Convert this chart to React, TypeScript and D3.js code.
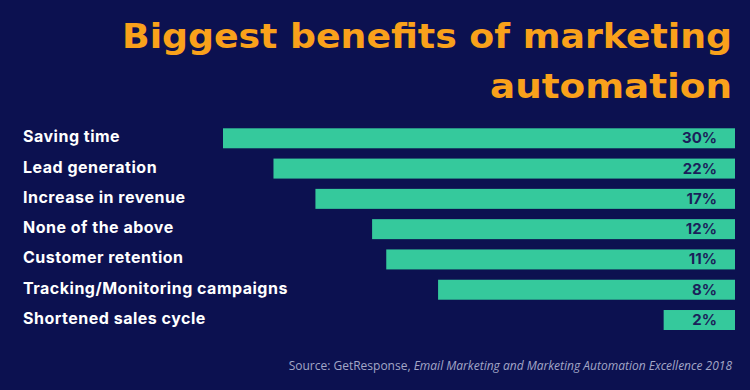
import * as d3 from 'd3'

const categories = [
  'Saving time',
  'Lead generation',
  'Increase in revenue',
  'None of the above',
  'Customer retention',
  'Tracking/Monitoring campaigns',
  'Shortened sales cycle',
]
const values = [30, 22, 17, 12, 11, 8, 2]
const titleLines = ['Biggest benefits of marketing', 'automation']
const sourcePlain = 'Source: GetResponse, '
const sourceItalic = 'Email Marketing and Marketing Automation Excellence 2018'

export default function App() {
  const width = 750
  const height = 390
  const barRight = 735
  const bg = '#0c1150'
  const green = '#35c99c'

  // bars are right-anchored; widths in the source grow roughly with log(value)
  const w = d3.scaleLog().domain([1.29, 30]).range([0, 512])
  const y = d3.scaleBand<string>()
    .domain(categories)
    .range([128.3, 330])
    .paddingInner(0.34)
    .paddingOuter(0)

  const data = categories.map((c, i) => ({category: c, value: values[i]}))
  const font = 'Inter, "Noto Sans", sans-serif'
  const titleFont = '"DejaVu Sans", sans-serif'
  // the original uses a wide geometric face, so stretch the title lines to its measured widths
  const titleWidths = [610, 242]

  return (
    <svg width={width} height={height} style={{position: 'absolute', left: 0, top: 0}}>
      <rect width={width} height={height} fill={bg}/>
      {titleLines.map((t, i) => (
        <text key={t} x={732} y={47.5 + i * 50} fill="#f9a11b" fontFamily={titleFont} fontWeight={700}
              fontSize={33} textAnchor="end" textLength={titleWidths[i]}
              lengthAdjust="spacingAndGlyphs">{t}</text>
      ))}
      {data.map(d => {
        const y0 = y(d.category)!
        const cy = y0 + y.bandwidth() / 2
        const bw = w(d.value)
        return (
          <g key={d.category}>
            <text x={23} y={cy + 4} fill="#ffffff" fontFamily={font} fontWeight={700}
                  fontSize={16} letterSpacing={0.5}>{d.category}</text>
            <rect x={barRight - bw} y={y0} width={bw} height={y.bandwidth()} fill={green}/>
            <text x={717} y={cy + 5} textAnchor="end" fill="#1b1f5a"
                  fontFamily={font} fontWeight={700} fontSize={15}>{d.value}%</text>
          </g>
        )
      })}
      <text x={732} y={370} textAnchor="end" fill="#a3a7c7" fontFamily='"Open Sans", sans-serif' fontSize={12}>
        {sourcePlain}<tspan fontStyle="italic">{sourceItalic}</tspan>
      </text>
    </svg>
  )
}
